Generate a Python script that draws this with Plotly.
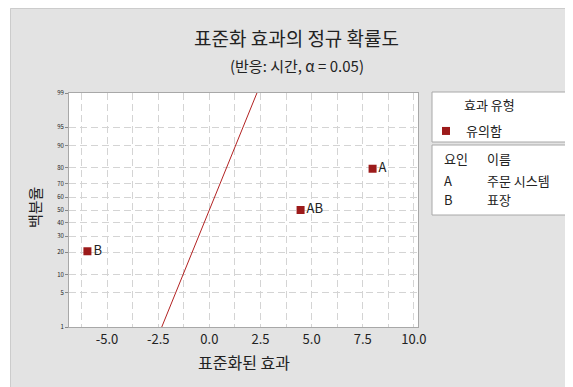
from statistics import NormalDist
import plotly.graph_objects as go

# 표준화 효과 (Minitab 정규 확률도)
terms = ["A", "AB", "B"]
effects = [7.98, 4.46, -5.96]
pct = [79.4, 50.0, 20.6]          # 백분율 (median rank)

prob_ticks = [1, 5, 10, 20, 30, 40, 50, 60, 70, 80, 90, 95, 99]
line_pct = [1, 99]                 # 기준선 (표준 정규)

legend_title = "효과 유형"
legend_item = "유의함"
factor_rows = [("요인", "이름"), ("A", "주문 시스템"), ("B", "표장")]

nd = NormalDist()
z = lambda p: nd.inv_cdf(p / 100.0)

FONT = "Noto Sans CJK KR"
RED = "#9c1a1a"
OFF = 8                            # page body margin
W, H = 573 - OFF, 387 - OFF
L, R, T, B = 69 - OFF, 155, 93 - OFF, 60
pw, ph = W - L - R, H - T - B


# page pixel -> paper coords
def px_x(x):
    return (x - OFF - L) / pw


def px_y(y):
    return (H - B - (y - OFF)) / ph


fig = go.Figure()

fig.add_trace(go.Scatter(
    x=[z(p) for p in line_pct], y=[z(p) for p in line_pct],
    mode="lines", line=dict(color="#b22222", width=1), showlegend=False, hoverinfo="skip"))

fig.add_trace(go.Scatter(
    x=effects, y=[z(p) for p in pct], mode="markers+text", text=terms,
    textposition="middle right", textfont=dict(family=FONT, size=13, color="#222"),
    marker=dict(symbol="square", size=8, color=RED), name=legend_item))

grid = dict(showgrid=True, gridcolor="#d4d4d4", gridwidth=1, griddash="7px,4px")
fig.update_xaxes(range=[-6.86, 10.2], tickvals=[-5, -2.5, 0, 2.5, 5, 7.5, 10],
                 ticktext=["-5.0", "-2.5", "0.0", "2.5", "5.0", "7.5", "10.0"],
                 tickfont=dict(family=FONT, size=13, color="#222"),
                 showline=True, linecolor="#a8a8a8", mirror=True, zeroline=False,
                 ticks="", minor=dict(dtick=1.25, tick0=0, showgrid=True,
                                      gridcolor="#d4d4d4", griddash="7px,4px"),
                 **grid)
fig.update_yaxes(range=[z(1), z(99)], tickvals=[z(p) for p in prob_ticks],
                 ticktext=[str(p) for p in prob_ticks],
                 tickfont=dict(family=FONT, size=6, color="#222"),
                 showline=True, linecolor="#a8a8a8", mirror=True, zeroline=False,
                 ticks="outside", ticklen=3, tickcolor="#888", **grid)

shapes = [
    dict(type="rect", xref="paper", yref="paper", x0=px_x(8), x1=px_x(10), y0=px_y(8), y1=px_y(387),
         fillcolor="white", line_width=0, layer="above"),
    dict(type="line", xref="paper", yref="paper", x0=px_x(10.5), x1=px_x(573), y0=px_y(8.5), y1=px_y(8.5),
         line=dict(color="#cccccc", width=1)),
    dict(type="line", xref="paper", yref="paper", x0=px_x(10.5), x1=px_x(10.5), y0=px_y(8.5), y1=px_y(387),
         line=dict(color="#cccccc", width=1)),
    dict(type="rect", xref="paper", yref="paper", x0=px_x(432), x1=px_x(568), y0=px_y(92), y1=px_y(142),
         fillcolor="white", line=dict(color="#a8a8a8", width=1), layer="below"),
    dict(type="rect", xref="paper", yref="paper", x0=px_x(432), x1=px_x(568), y0=px_y(145), y1=px_y(215),
         fillcolor="white", line=dict(color="#a8a8a8", width=1), layer="below"),
]

ann = [
    dict(text="표준화 효과의 정규 확률도", x=px_x(296), y=px_y(38), font=dict(size=19)),
    dict(text="(반응: 시간, α = 0.05)", x=px_x(297), y=px_y(66), font=dict(size=15)),
    dict(text="표준화된 효과", x=px_x(244), y=px_y(362), font=dict(size=16)),
    dict(text="백분율", x=px_x(34), y=px_y(208), font=dict(size=15), textangle=-90),
    dict(text=legend_title, x=px_x(462), y=px_y(104), xanchor="left", font=dict(size=13)),
]
row_y = [158, 180, 199]
for (c1, c2), yy in zip(factor_rows, row_y):
    ann.append(dict(text=c1, x=px_x(442), y=px_y(yy), xanchor="left", font=dict(size=13)))
    ann.append(dict(text=c2, x=px_x(485), y=px_y(yy), xanchor="left", font=dict(size=13)))
for a in ann:
    a.update(xref="paper", yref="paper", showarrow=False, yanchor="middle")
    a.setdefault("xanchor", "center")
    a["font"].update(family=FONT, color="#222")

fig.update_layout(
    width=W, height=H, margin=dict(l=L, r=R, t=T, b=B),
    paper_bgcolor="#e3e3e3", plot_bgcolor="white",
    shapes=shapes, annotations=ann,
    showlegend=True,
    legend=dict(x=px_x(426), y=px_y(116), xanchor="left", yanchor="top",
                bgcolor="rgba(0,0,0,0)", borderwidth=0,
                font=dict(family=FONT, size=13, color="#222")),
)

fig.write_html("out.html")
